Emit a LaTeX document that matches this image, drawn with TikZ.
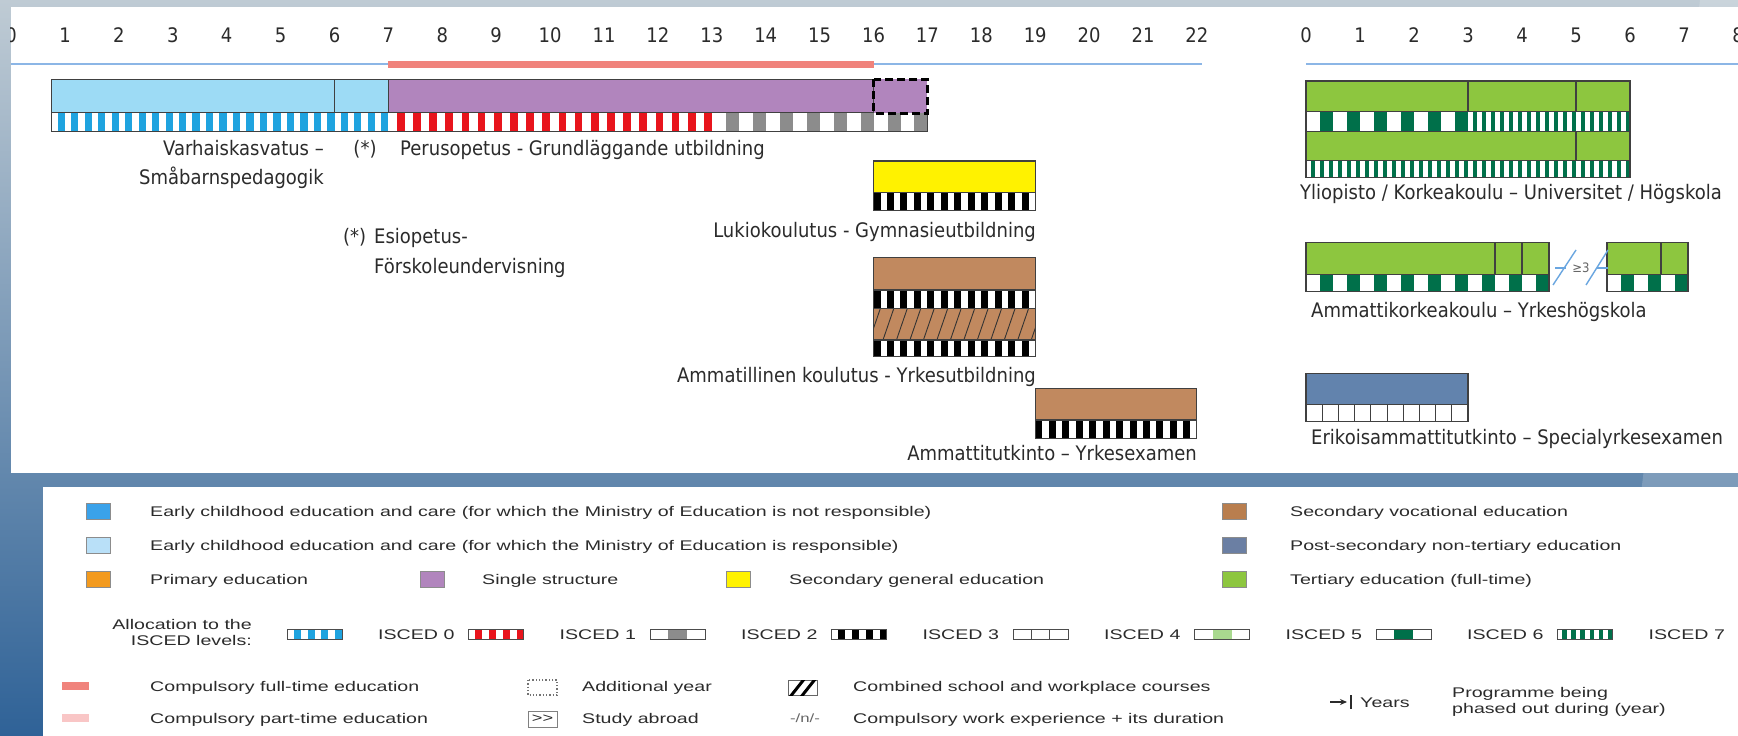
\documentclass[tikz,border=0pt]{standalone}
\usepackage{fontspec}
\setmainfont{Liberation Sans}
\newfontfamily\chartfont[FakeStretch=0.9]{DejaVu Sans}
\newfontfamily\legfont[FakeStretch=1.4]{Liberation Sans}
\usetikzlibrary{arrows.meta}

\definecolor{txt}{HTML}{2B2B2B}
\definecolor{bgtop}{HTML}{BFCBD4}
\definecolor{bgbot}{HTML}{2F6297}
\definecolor{axisblue}{HTML}{8CB6E6}
\definecolor{compfull}{HTML}{F0837C}
\definecolor{comppart}{HTML}{F9C6C6}
\definecolor{ececlight}{HTML}{9DDBF5}
\definecolor{isced0}{HTML}{1FA3DF}
\definecolor{single}{HTML}{B185BD}
\definecolor{isced1}{HTML}{E8141C}
\definecolor{isced2}{HTML}{8C8C8C}
\definecolor{secgen}{HTML}{FFF200}
\definecolor{secvoc}{HTML}{C1895F}
\definecolor{postsec}{HTML}{6283AD}
\definecolor{tert}{HTML}{8DC63F}
\definecolor{lgreen}{HTML}{A9D98F}
\definecolor{dgreen}{HTML}{00704A}
\definecolor{breakblue}{HTML}{6AA6E0}
\definecolor{ecdark}{HTML}{3AA2EA}
\definecolor{eclight}{HTML}{B9E0F8}
\definecolor{primedu}{HTML}{F39A1E}
\definecolor{legbrown}{HTML}{B97E4E}
\definecolor{legslate}{HTML}{6B7FA3}

\begin{document}
\begin{tikzpicture}[x=1pt,y=-1pt,
    lbl/.style={font=\chartfont\fontsize{20}{24}\selectfont, text=txt, inner sep=0pt},
    leg/.style={font=\legfont\fontsize{14}{16}\selectfont, text=txt, inner sep=0pt, anchor=base west},
    frame/.style={draw=black!75, line width=1.1pt},
    swatch/.style={draw=black!45, line width=0.8pt}]
    \useasboundingbox (0,0) rectangle (1738,736);

    % Background and panels
    \shade[top color=bgtop, bottom color=bgbot] (0,0) rectangle (1738,736);
    \fill[white,opacity=0.18] (1700,0) -- (1738,0) -- (1738,736) -- (1612,736) -- cycle;
    \fill[white] (10.7,7.3) rectangle (1738,472.7);
    \fill[white] (43,487) rectangle (1738,736);

    \begin{scope}
    \clip (10.7,7.3) rectangle (1738,472.7);

    % Age axes
    \foreach \a in {0,...,22} \node[lbl] (t\a) at ({11.1+53.9*\a},35) {\a};
    \foreach \a in {0,...,8} \node[lbl] (u\a) at ({1306+54*\a},35) {\a};
    \draw[axisblue, line width=2.8pt] (10.7,64) -- (1202,64);
    \draw[axisblue, line width=2.8pt] (1306,64) -- (1738,64);
    \fill[compfull] (388.4,60.5) rectangle (873.5,67.5);

    % ECEC and single structure
    \fill[ececlight] (51.5,79.3) rectangle (388.4,112.7);
    \fill[single] (388.4,79.3) rectangle (873.5,112.7);
    \fill[white] (51.5,112.7) rectangle (927.4,131.7);
    \foreach \i in {0,...,24} \fill[isced0] ({51.5+13.475*\i+6.2},112.7) rectangle ++(7.3,19);
    \foreach \i in {0,...,19} \fill[isced1] ({388.4+16.17*\i+8.5},112.7) rectangle ++(7.7,19);
    \foreach \i in {0,...,7} \fill[isced2] ({711.8+26.95*\i+14},112.7) rectangle ++(13,19);
    \draw[frame] (51.5,79.3) rectangle (873.5,112.7);
    \draw[frame] (51.5,112.7) rectangle (927.4,131.7);
    \draw[frame] (334.5,79.3) -- (334.5,112.7);
    \draw[frame] (388.4,79.3) -- (388.4,112.7);
    \draw[fill=single, line width=2.5pt, dash pattern=on 8pt off 4pt] (873.5,79.3) rectangle (927.4,113.3);

    \node[lbl, anchor=base east] (ecec1) at (324,155) {Varhaiskasvatus –};
    \node[lbl, anchor=base east] (ecec2) at (324,184) {Småbarnspedagogik};
    \node[lbl, anchor=base] (star1) at (365,155) {(*)};
    \node[lbl, anchor=base west] (perus) at (400,155) {Perusopetus - Grundläggande utbildning};
    \node[lbl, anchor=base west] (star2) at (343,243) {(*)};
    \node[lbl, anchor=base west] (esi1) at (374,243) {Esiopetus-};
    \node[lbl, anchor=base west] (esi2) at (374,273) {Förskoleundervisning};

    % Upper secondary general
    \fill[secgen] (873.5,161) rectangle (1035.2,192.7);
    \fill[white] (873.5,192.7) rectangle (1035.2,210.7);
    \foreach \i in {0,...,11} \fill[black] ({873.5+13.475*\i},192.7) rectangle ++(7,18);
    \draw[frame] (873.5,161) rectangle (1035.2,192.7);
    \draw[frame] (873.5,192.7) rectangle (1035.2,210.7);
    \node[lbl, anchor=base east] (lukio) at (1036,237) {Lukiokoulutus - Gymnasieutbildning};

    % Upper secondary vocational
    \fill[secvoc] (873.5,257.7) rectangle (1035.2,290);
    \fill[secvoc] (873.5,308.3) rectangle (1035.2,340);
    \begin{scope}
    \clip (873.5,308.3) rectangle (1035.2,340);
    \foreach \i in {0,...,13} \draw[black!80, line width=0.9pt] ({873.5+13.475*\i-4},340) -- ++(11,-32);
    \end{scope}
    \fill[white] (873.5,290) rectangle (1035.2,308.3);
    \fill[white] (873.5,340) rectangle (1035.2,356.7);
    \foreach \i in {0,...,11} {
      \fill[black] ({873.5+13.475*\i},290) rectangle ++(7,18.3);
      \fill[black] ({873.5+13.475*\i},340) rectangle ++(7,16.7);
    }
    \draw[frame] (873.5,257.7) rectangle (1035.2,356.7);
    \draw[frame] (873.5,290) -- (1035.2,290);
    \draw[frame] (873.5,308.3) -- (1035.2,308.3);
    \draw[frame] (873.5,340) -- (1035.2,340);
    \node[lbl, anchor=base east] (ammat) at (1036,382) {Ammatillinen koulutus - Yrkesutbildning};

    \fill[secvoc] (1035.2,388.3) rectangle (1196.9,420);
    \fill[white] (1035.2,420) rectangle (1196.9,438.3);
    \foreach \i in {0,...,11} \fill[black] ({1035.2+13.475*\i},420) rectangle ++(7,18.3);
    \draw[frame] (1035.2,388.3) rectangle (1196.9,438.3);
    \draw[frame] (1035.2,420) -- (1196.9,420);
    \node[lbl, anchor=base east] (ammtut) at (1197,460) {Ammattitutkinto – Yrkesexamen};

    % University
    \fill[tert] (1306,81) rectangle (1630,111.7);
    \fill[tert] (1306,131.7) rectangle (1630,160.7);
    \fill[white] (1306,111.7) rectangle (1630,131.7);
    \fill[white] (1306,160.7) rectangle (1630,177.3);
    \foreach \i in {0,...,5} \fill[dgreen] ({1306+27*\i+13.5},111.7) rectangle ++(13.5,20);
    \foreach \i in {0,...,17} \fill[dgreen] ({1468+9*\i+4.5},111.7) rectangle ++(4.5,20);
    \foreach \i in {0,...,35} \fill[dgreen] ({1306+9*\i+4.5},160.7) rectangle ++(4.5,16.6);
    \draw[frame] (1306,81) rectangle (1630,177.3);
    \draw[frame] (1306,111.7) -- (1630,111.7);
    \draw[frame] (1306,131.7) -- (1630,131.7);
    \draw[frame] (1306,160.7) -- (1630,160.7);
    \draw[frame] (1468,81) -- (1468,111.7);
    \draw[frame] (1576,81) -- (1576,111.7);
    \draw[frame] (1576,131.7) -- (1576,160.7);
    \node[lbl, anchor=base west] (yo) at (1300,199) {Yliopisto / Korkeakoulu – Universitet / Högskola};

    % Universities of applied sciences
    \fill[tert] (1306,242.7) rectangle (1549,274.3);
    \fill[tert] (1607,242.7) rectangle (1688,274.3);
    \fill[white] (1306,274.3) rectangle (1549,291.7);
    \fill[white] (1607,274.3) rectangle (1688,291.7);
    \foreach \i in {0,...,8} \fill[dgreen] ({1306+27*\i+13.5},274.3) rectangle ++(13.5,17.4);
    \foreach \i in {0,...,2} \fill[dgreen] ({1607+27*\i+13.5},274.3) rectangle ++(13.5,17.4);
    \draw[frame] (1306,242.7) rectangle (1549,291.7);
    \draw[frame] (1306,274.3) -- (1549,274.3);
    \draw[frame] (1495,242.7) -- (1495,274.3);
    \draw[frame] (1522,242.7) -- (1522,274.3);
    \draw[frame] (1607,242.7) rectangle (1688,291.7);
    \draw[frame] (1607,274.3) -- (1688,274.3);
    \draw[frame] (1661,242.7) -- (1661,274.3);
    \draw[breakblue, line width=1.4pt] (1553,285) -- (1576,250);
    \draw[breakblue, line width=1.4pt] (1555,268) -- (1566,268);
    \draw[breakblue, line width=1.4pt] (1586,285) -- (1608,250);
    \draw[breakblue, line width=1.4pt] (1597,268) -- (1608,268);
    \node[font=\chartfont\fontsize{13}{14}\selectfont, text=black!60, inner sep=0pt] (gap) at (1581,268) {≥3};
    \node[lbl, anchor=base west] (amk) at (1311,317) {Ammattikorkeakoulu – Yrkeshögskola};

    % Specialist vocational qualification
    \fill[postsec] (1306,373.3) rectangle (1468,404.3);
    \fill[white] (1306,404.3) rectangle (1468,421.7);
    \foreach \i in {1,...,9} \draw[black!75, line width=0.9pt] ({1306+16.2*\i},404.3) -- ++(0,17.4);
    \draw[frame] (1306,373.3) rectangle (1468,421.7);
    \draw[frame] (1306,404.3) -- (1468,404.3);
    \node[lbl, anchor=base west] (erik) at (1311,444) {Erikoisammattitutkinto – Specialyrkesexamen};
    \end{scope}

    % Legend: colours
    \fill[ecdark, swatch] (86,503) rectangle (110,519);
    \node[leg] (l1) at (150,516) {Early childhood education and care (for which the Ministry of Education is not responsible)};
    \fill[eclight, swatch] (86,537) rectangle (110,553);
    \node[leg] (l2) at (150,550) {Early childhood education and care (for which the Ministry of Education is responsible)};
    \fill[primedu, swatch] (86,571) rectangle (110,587);
    \node[leg] (l3) at (150,584) {Primary education};
    \fill[single, swatch] (420,571) rectangle (444,587);
    \node[leg] (l4) at (482,584) {Single structure};
    \fill[secgen, swatch] (726,571) rectangle (750,587);
    \node[leg] (l5) at (789,584) {Secondary general education};
    \fill[legbrown, swatch] (1222,503) rectangle (1246,519);
    \node[leg] (l6) at (1290,516) {Secondary vocational education};
    \fill[legslate, swatch] (1222,537) rectangle (1246,553);
    \node[leg] (l7) at (1290,550) {Post-secondary non-tertiary education};
    \fill[tert, swatch] (1222,571) rectangle (1246,587);
    \node[leg] (l8) at (1290,584) {Tertiary education (full-time)};

    % Legend: ISCED levels
    \node[leg, anchor=east, align=right] (alloc) at (252,632) {Allocation to the\\ISCED levels:};
    \foreach \k/\c in {0/isced0,1/isced1,3/black}
      \foreach \j in {0,...,3}
        \fill[\c] ({287+181.5*\k+6.9+13.75*\j},629) rectangle ++(6.9,10);
    \foreach \k/\c in {2/isced2,5/lgreen,6/dgreen}
      \fill[\c] ({287+181.5*\k+18},629) rectangle ++(19,10);
    \foreach \j in {0,...,5} \fill[dgreen] ({287+181.5*7+4.6+9.17*\j},629) rectangle ++(4.6,10);
    \draw[black!70, line width=0.8pt] ({287+181.5*4+18.3},629) -- ++(0,10);
    \draw[black!70, line width=0.8pt] ({287+181.5*4+36.7},629) -- ++(0,10);
    \foreach \k in {0,...,7} {
      \draw[black!70, line width=1pt] ({287+181.5*\k},629) rectangle ++(55,10);
      \node[leg] (isc\k) at ({378+181.5*\k},639) {ISCED \k};
    }

    % Legend: other symbols
    \fill[compfull] (62,682) rectangle (89,690);
    \node[leg] (l9) at (150,691) {Compulsory full-time education};
    \fill[comppart] (62,714) rectangle (89,722);
    \node[leg] (l10) at (150,723) {Compulsory part-time education};
    \draw[black!55, line width=1.3pt, dotted] (528,680) rectangle (557,695);
    \node[leg] (l11) at (582,691) {Additional year};
    \draw[black!50, line width=0.8pt] (528,711) rectangle (557,727);
    \node[font=\legfont\fontsize{13}{14}\selectfont, text=txt, inner sep=0pt] (abr) at (542.5,719) {>>};
    \node[leg] (l12) at (582,723) {Study abroad};
    \draw[black!60, line width=0.8pt] (788,680) rectangle (817,695);
    \begin{scope}
    \clip (788,680) rectangle (817,695);
    \draw[black, line width=3pt] (790,697) -- (805,678);
    \draw[black, line width=3pt] (801,697) -- (816,678);
    \end{scope}
    \node[leg] (l13) at (853,691) {Combined school and workplace courses};
    \node[font=\legfont\fontsize{12}{14}\selectfont, text=black!60, inner sep=0pt] (wexp) at (805,718) {-/n/-};
    \node[leg] (l14) at (853,723) {Compulsory work experience + its duration};
    \draw[-{Stealth[length=7pt,width=6pt]}, line width=1.3pt, txt] (1330,702) -- (1347,702);
    \draw[line width=1.3pt, txt] (1351,695) -- (1351,709);
    \node[leg] (yrs) at (1360,707) {Years};
    \node[leg, anchor=west, align=left] (phase) at (1452,702) {Programme being\\phased out during (year)};
\end{tikzpicture}
\end{document}
